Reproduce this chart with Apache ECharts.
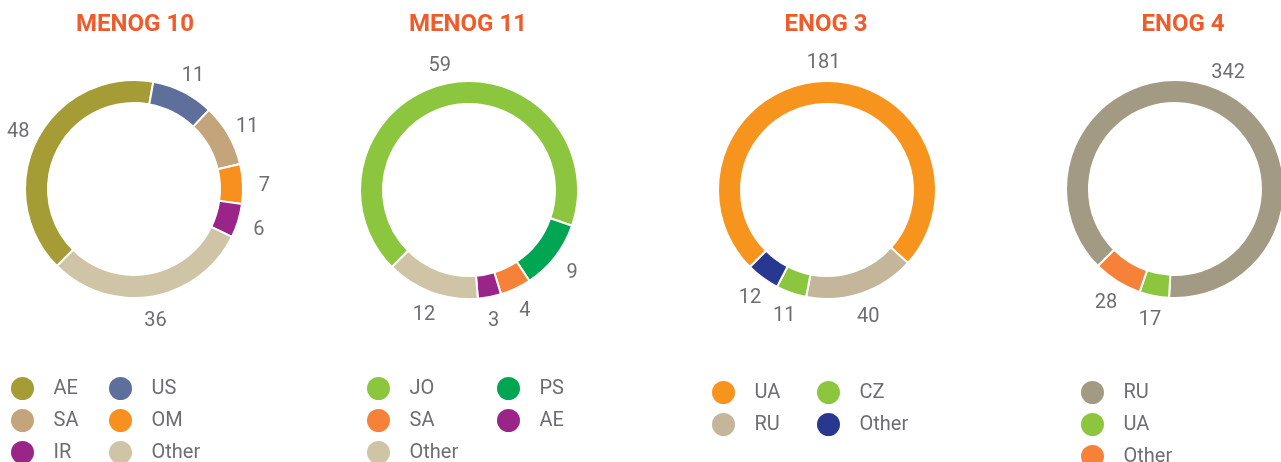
<!DOCTYPE html>
<html>
<head>
<meta charset="utf-8">
<script src="https://cdn.jsdelivr.net/npm/echarts@6/dist/echarts.min.js"></script>
<style>
    html, body { margin: 0; padding: 0; background: #fff; overflow: hidden; }
    body { width: 1281px; height: 462px; position: relative; }
    .pie { position: absolute; top: 0; height: 462px; }
</style>
</head>
<body>
<div id="c1" class="pie" style="left:0;width:300px"></div>
<div id="c2" class="pie" style="left:300px;width:340px"></div>
<div id="c3" class="pie" style="left:640px;width:350px"></div>
<div id="c4" class="pie" style="left:990px;width:291px"></div>
<script>
// data
const titles = ["MENOG 10", "MENOG 11", "ENOG 3", "ENOG 4"];

const menog10Names = ["AE", "US", "SA", "OM", "IR", "Other"];
const menog10Values = [48, 11, 11, 7, 6, 36];

const menog11Names = ["JO", "PS", "SA", "AE", "Other"];
const menog11Values = [59, 9, 4, 3, 12];

const enog3Names = ["UA", "RU", "CZ", "Other"];
const enog3Values = [181, 40, 11, 12];

const enog4Names = ["RU", "UA", "Other"];
const enog4Values = [342, 17, 28];

// legend columns (names only)
const menog10Legend = [["AE", "SA", "IR"], ["US", "OM", "Other"]];
const menog11Legend = [["JO", "SA", "Other"], ["PS", "AE"]];
const enog3Legend = [["UA", "RU"], ["CZ", "Other"]];
const enog4Legend = [["RU", "UA", "Other"]];

// colours
const menog10Colors = ["#A59C35", "#5F6F9B", "#C4A57B", "#F7901E", "#9B2489", "#CFC4A6"];
const menog11Colors = ["#8CC63F", "#00A651", "#F58238", "#9B2489", "#CFC4A6"];
const enog3Colors = ["#F7941D", "#C4B59B", "#8CC63F", "#283891"];
const enog4Colors = ["#A29A82", "#8CC63F", "#F58238"];

const textGray = "#6D6E71";
const font = "Roboto, 'Noto Sans', sans-serif";

function drawPie(el, title, titleX, names, values, colors, legendCols, center, legendLeft, legendTop) {
    let chart = echarts.init(document.getElementById(el));
    let data = names.map((n, i) => ({ name: n, value: values[i] }));
    let legends = legendCols.map((col, i) => ({
        orient: "vertical",
        left: legendLeft[i],
        top: legendTop,
        height: 150,
        padding: 0,
        itemGap: 5,
        itemWidth: 52,
        itemHeight: 25,
        icon: "circle",
        selectedMode: false,
        textStyle: { color: textGray, fontSize: 20, fontFamily: font },
        data: col
    }));
    const option = {
        animation: false,
        color: colors,
        title: {
            text: title,
            left: titleX,
            textAlign: "center",
            top: 13,
            padding: 0,
            textStyle: { color: "#F15A29", fontSize: 24, fontWeight: "bold", fontFamily: font }
        },
        legend: legends,
        series: [{
            type: "pie",
            center: center,
            radius: [86, 109],
            startAngle: 225,
            clockwise: true,
            itemStyle: { borderColor: "#fff", borderWidth: 2 },
            label: { show: false },
            labelLine: { show: false },
            emphasis: { disabled: true },
            data: data
        }, {
            // invisible ring, only carries the value labels
            type: "pie",
            center: center,
            radius: [118, 137],
            startAngle: 225,
            clockwise: true,
            silent: true,
            itemStyle: { color: "rgba(0,0,0,0)" },
            label: {
                show: true,
                position: "inside",
                formatter: "{c}",
                offset: [0, 3],
                color: textGray,
                fontSize: 20,
                fontFamily: font
            },
            labelLine: { show: false },
            emphasis: { disabled: true },
            data: data
        }]
    };
    chart.setOption(option);
    return chart;
}

drawPie("c1", titles[0], 135, menog10Names, menog10Values, menog10Colors, menog10Legend, [134, 189], [9, 107], 375);
drawPie("c2", titles[1], 168, menog11Names, menog11Values, menog11Colors, menog11Legend, [169, 190], [65, 195], 375);
drawPie("c3", titles[2], 186, enog3Names, enog3Values, enog3Colors, enog3Legend, [187, 190], [70, 175], 379);
drawPie("c4", titles[3], 193, enog4Names, enog4Values, enog4Colors, enog4Legend, [185, 189], [89], 379);
</script>
</body>
</html>
